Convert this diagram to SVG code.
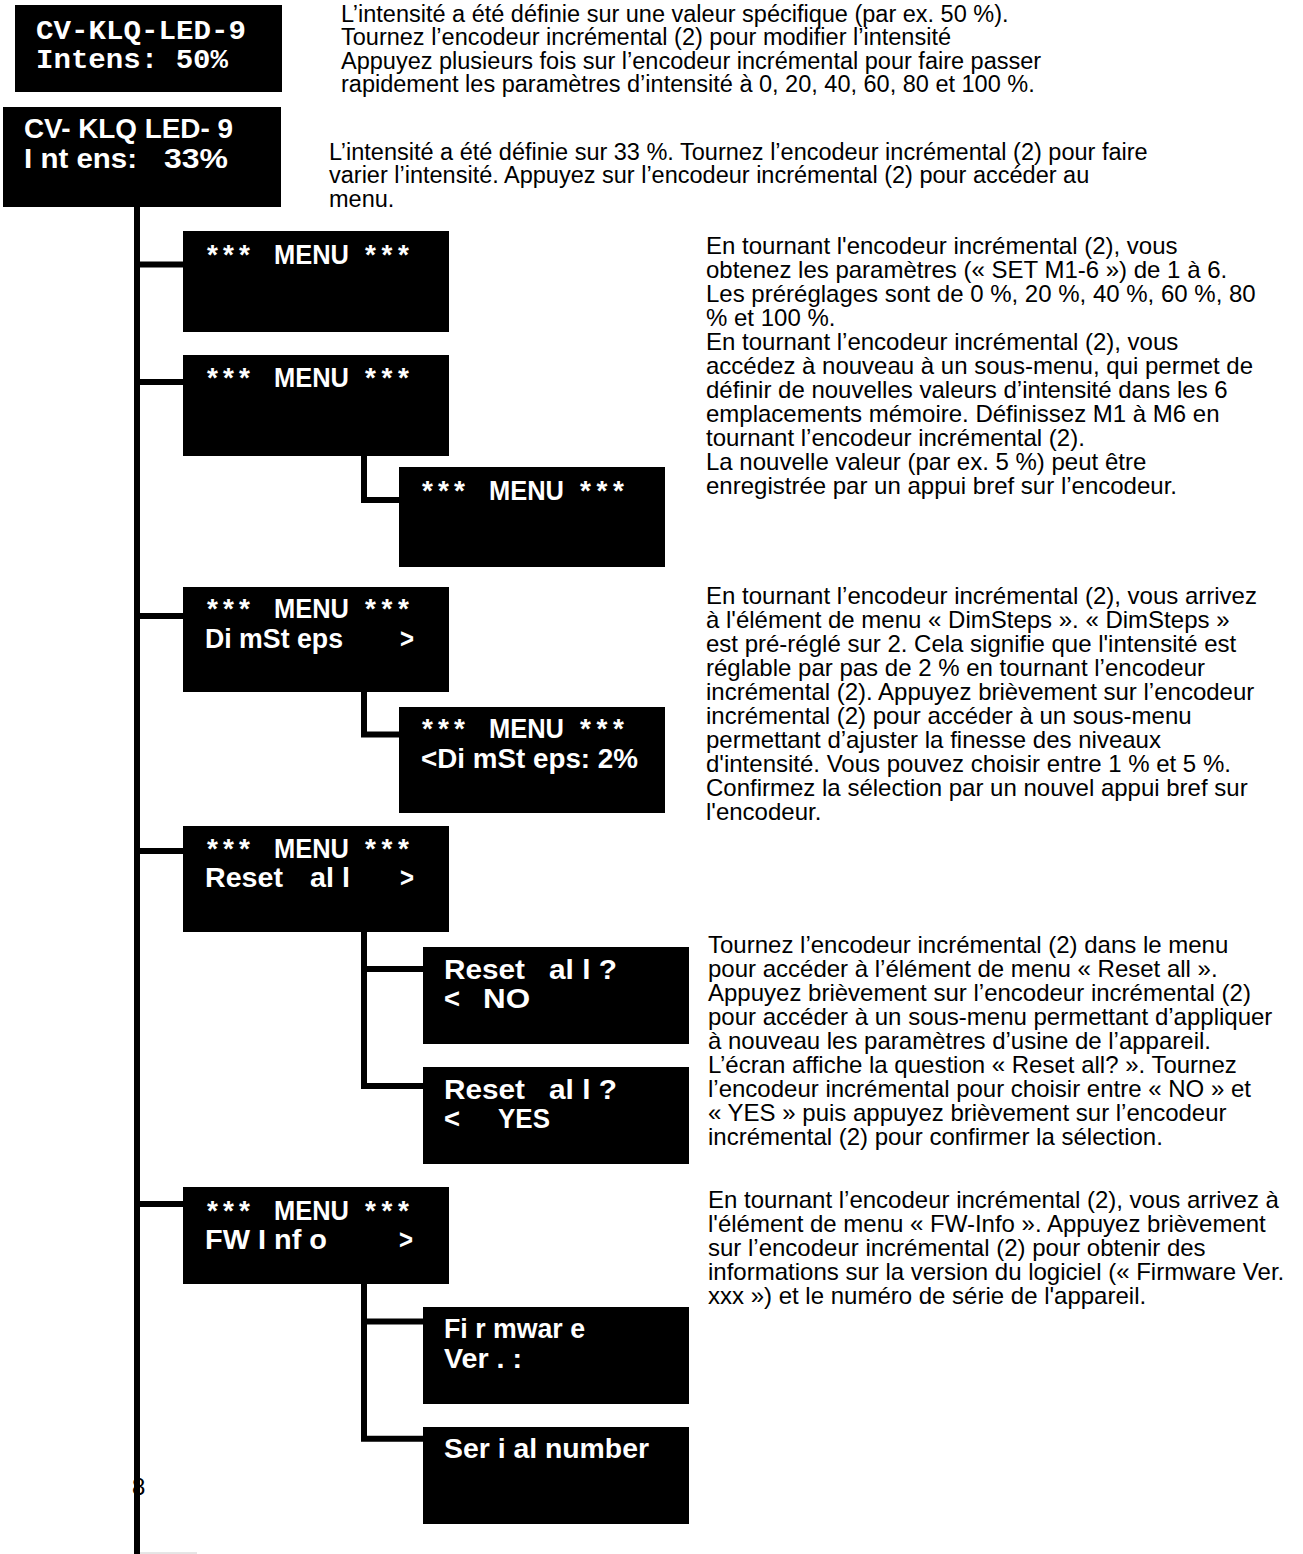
<svg xmlns="http://www.w3.org/2000/svg" width="1303" height="1554" viewBox="0 0 1303 1554">
<style>
.box{fill:#000}
.lcd{font-family:"Liberation Sans",Arial,sans-serif;font-weight:bold;font-size:28px;fill:#fff}
.mono{font-family:"Liberation Mono","Courier New",monospace;font-weight:bold;font-size:28px;fill:#fff}
.desc{font-family:"Liberation Sans",Arial,sans-serif;font-size:24px;fill:#000}
.desct{font-family:"Liberation Sans",Arial,sans-serif;font-size:23.5px;fill:#000}
.conn{stroke:#000;stroke-width:6;fill:none}
</style>
<rect width="1303" height="1554" fill="#fff"/>

<g id="page-number"><text x="132" y="1495" font-family="Liberation Sans, Arial, sans-serif" font-size="24" fill="#000">8</text></g>

<g id="connectors">
<line class="conn" x1="137" y1="207" x2="137" y2="1554"/>
<line class="conn" x1="137" y1="264.5" x2="183" y2="264.5"/>
<line class="conn" x1="137" y1="382" x2="183" y2="382"/>
<line class="conn" x1="137" y1="616" x2="183" y2="616"/>
<line class="conn" x1="137" y1="851" x2="183" y2="851"/>
<line class="conn" x1="137" y1="1204" x2="183" y2="1204"/>
<polyline class="conn" points="364,456 364,500 399,500"/>
<polyline class="conn" points="364,692 364,734.5 399,734.5"/>
<polyline class="conn" points="364,932 364,1086 423,1086"/>
<line class="conn" x1="364" y1="969" x2="423" y2="969"/>
<polyline class="conn" points="364,1284 364,1438.7 423,1438.7"/>
<line class="conn" x1="364" y1="1321.5" x2="423" y2="1321.5"/>
<line x1="140" y1="1553" x2="197" y2="1553" stroke="#ccc" stroke-width="1"/>
</g>

<g id="node-intens50">
<rect class="box" x="15" y="5" width="267" height="87"/>
<text class="mono" x="36" y="39" textLength="210" lengthAdjust="spacingAndGlyphs">CV-KLQ-LED-9</text>
<text class="mono" x="36" y="68" textLength="192" lengthAdjust="spacingAndGlyphs">Intens: 50%</text>
</g>

<g id="node-intens33">
<rect class="box" x="3" y="107" width="278" height="100"/>
<text class="lcd" x="24" y="138" font-size="25" textLength="209" lengthAdjust="spacingAndGlyphs">CV- KLQ LED- 9</text>
<text class="lcd" x="24" y="168" font-size="25" textLength="113" lengthAdjust="spacingAndGlyphs">I nt ens:</text>
<text class="lcd" x="164" y="168" font-size="25" textLength="64" lengthAdjust="spacingAndGlyphs">33%</text>
</g>

<g id="node-menu1">
<rect class="box" x="183" y="231" width="266" height="101"/>
<text class="lcd" y="264"><tspan x="207" textLength="43" lengthAdjust="spacing">***</tspan><tspan x="274" textLength="75" lengthAdjust="spacingAndGlyphs">MENU</tspan><tspan x="365" textLength="44" lengthAdjust="spacing">***</tspan></text>
</g>

<g id="node-menu2">
<rect class="box" x="183" y="355" width="266" height="101"/>
<text class="lcd" y="387"><tspan x="207" textLength="43" lengthAdjust="spacing">***</tspan><tspan x="274" textLength="75" lengthAdjust="spacingAndGlyphs">MENU</tspan><tspan x="365" textLength="44" lengthAdjust="spacing">***</tspan></text>
</g>

<g id="node-menu3">
<rect class="box" x="399" y="467" width="266" height="100"/>
<text class="lcd" y="499.5"><tspan x="422" textLength="43" lengthAdjust="spacing">***</tspan><tspan x="489" textLength="75" lengthAdjust="spacingAndGlyphs">MENU</tspan><tspan x="580" textLength="44" lengthAdjust="spacing">***</tspan></text>
</g>

<g id="node-dimsteps">
<rect class="box" x="183" y="587" width="266" height="105"/>
<text class="lcd" y="618"><tspan x="207" textLength="43" lengthAdjust="spacing">***</tspan><tspan x="274" textLength="75" lengthAdjust="spacingAndGlyphs">MENU</tspan><tspan x="365" textLength="44" lengthAdjust="spacing">***</tspan></text>
<text class="lcd" y="648"><tspan x="205" textLength="138" lengthAdjust="spacingAndGlyphs">Di mSt eps</tspan><tspan x="400" textLength="14" lengthAdjust="spacingAndGlyphs">&gt;</tspan></text>
</g>

<g id="node-dimsteps-sub">
<rect class="box" x="399" y="707" width="266" height="106"/>
<text class="lcd" y="738"><tspan x="422" textLength="43" lengthAdjust="spacing">***</tspan><tspan x="489" textLength="75" lengthAdjust="spacingAndGlyphs">MENU</tspan><tspan x="580" textLength="44" lengthAdjust="spacing">***</tspan></text>
<text class="lcd" x="421" y="768" textLength="217" lengthAdjust="spacingAndGlyphs">&lt;Di mSt eps: 2%</text>
</g>

<g id="node-resetall">
<rect class="box" x="183" y="826" width="266" height="106"/>
<text class="lcd" y="858"><tspan x="207" textLength="43" lengthAdjust="spacing">***</tspan><tspan x="274" textLength="75" lengthAdjust="spacingAndGlyphs">MENU</tspan><tspan x="365" textLength="44" lengthAdjust="spacing">***</tspan></text>
<text class="lcd" y="887"><tspan x="205" textLength="78" lengthAdjust="spacingAndGlyphs">Reset</tspan><tspan x="310" textLength="40" lengthAdjust="spacingAndGlyphs">al l</tspan><tspan x="400" textLength="14" lengthAdjust="spacingAndGlyphs">&gt;</tspan></text>
</g>

<g id="node-reset-no">
<rect class="box" x="423" y="947" width="266" height="97"/>
<text class="lcd" y="979"><tspan x="444" textLength="81" lengthAdjust="spacingAndGlyphs">Reset</tspan><tspan x="549" textLength="68" lengthAdjust="spacingAndGlyphs">al l ?</tspan></text>
<text class="lcd" y="1008"><tspan x="444" textLength="16" lengthAdjust="spacingAndGlyphs">&lt;</tspan><tspan x="483" textLength="47" lengthAdjust="spacingAndGlyphs">NO</tspan></text>
</g>

<g id="node-reset-yes">
<rect class="box" x="423" y="1067" width="266" height="97"/>
<text class="lcd" y="1099"><tspan x="444" textLength="81" lengthAdjust="spacingAndGlyphs">Reset</tspan><tspan x="549" textLength="68" lengthAdjust="spacingAndGlyphs">al l ?</tspan></text>
<text class="lcd" y="1128"><tspan x="444" textLength="16" lengthAdjust="spacingAndGlyphs">&lt;</tspan><tspan x="498" textLength="52" lengthAdjust="spacingAndGlyphs">YES</tspan></text>
</g>

<g id="node-fwinfo">
<rect class="box" x="183" y="1187" width="266" height="97"/>
<text class="lcd" y="1220"><tspan x="207" textLength="43" lengthAdjust="spacing">***</tspan><tspan x="274" textLength="75" lengthAdjust="spacingAndGlyphs">MENU</tspan><tspan x="365" textLength="44" lengthAdjust="spacing">***</tspan></text>
<text class="lcd" y="1249"><tspan x="205" textLength="122" lengthAdjust="spacingAndGlyphs">FW I nf o</tspan><tspan x="399" textLength="14" lengthAdjust="spacingAndGlyphs">&gt;</tspan></text>
</g>

<g id="node-firmware">
<rect class="box" x="423" y="1307" width="266" height="97"/>
<text class="lcd" x="444" y="1338" textLength="141" lengthAdjust="spacingAndGlyphs">Fi r mwar e</text>
<text class="lcd" x="444" y="1368" textLength="78" lengthAdjust="spacingAndGlyphs">Ver . :</text>
</g>

<g id="node-serial">
<rect class="box" x="423" y="1427" width="266" height="97"/>
<text class="lcd" x="444" y="1458" textLength="205" lengthAdjust="spacingAndGlyphs">Ser i al number</text>
</g>

<g id="desc-top">
<text class="desct" x="341" y="22">L’intensité a été définie sur une valeur spécifique (par ex. 50 %).</text>
<text class="desct" x="341" y="45">Tournez l’encodeur incrémental (2) pour modifier l’intensité</text>
<text class="desct" x="341" y="69">Appuyez plusieurs fois sur l’encodeur incrémental pour faire passer</text>
<text class="desct" x="341" y="92">rapidement les paramètres d’intensité à 0, 20, 40, 60, 80 et 100 %.</text>
</g>
<g id="desc-33">
<text class="desct" x="329" y="160">L’intensité a été définie sur 33 %. Tournez l’encodeur incrémental (2) pour faire</text>
<text class="desct" x="329" y="183">varier l’intensité. Appuyez sur l’encodeur incrémental (2) pour accéder au</text>
<text class="desct" x="329" y="207">menu.</text>
</g>
<g id="desc-menu">
<text class="desc" x="706" y="254">En tournant l'encodeur incrémental (2), vous</text>
<text class="desc" x="706" y="278">obtenez les paramètres (« SET M1-6 ») de 1 à 6.</text>
<text class="desc" x="706" y="302">Les préréglages sont de 0 %, 20 %, 40 %, 60 %, 80</text>
<text class="desc" x="706" y="326">% et 100 %.</text>
<text class="desc" x="706" y="350">En tournant l’encodeur incrémental (2), vous</text>
<text class="desc" x="706" y="374">accédez à nouveau à un sous-menu, qui permet de</text>
<text class="desc" x="706" y="398">définir de nouvelles valeurs d’intensité dans les 6</text>
<text class="desc" x="706" y="422">emplacements mémoire. Définissez M1 à M6 en</text>
<text class="desc" x="706" y="446">tournant l’encodeur incrémental (2).</text>
<text class="desc" x="706" y="470">La nouvelle valeur (par ex. 5 %) peut être</text>
<text class="desc" x="706" y="494">enregistrée par un appui bref sur l’encodeur.</text>
</g>
<g id="desc-dimsteps">
<text class="desc" x="706" y="604">En tournant l’encodeur incrémental (2), vous arrivez</text>
<text class="desc" x="706" y="628">à l'élément de menu « DimSteps ». « DimSteps »</text>
<text class="desc" x="706" y="652">est pré-réglé sur 2. Cela signifie que l'intensité est</text>
<text class="desc" x="706" y="676">réglable par pas de 2 % en tournant l’encodeur</text>
<text class="desc" x="706" y="700">incrémental (2). Appuyez brièvement sur l’encodeur</text>
<text class="desc" x="706" y="724">incrémental (2) pour accéder à un sous-menu</text>
<text class="desc" x="706" y="748">permettant d’ajuster la finesse des niveaux</text>
<text class="desc" x="706" y="772">d'intensité. Vous pouvez choisir entre 1 % et 5 %.</text>
<text class="desc" x="706" y="796">Confirmez la sélection par un nouvel appui bref sur</text>
<text class="desc" x="706" y="820">l'encodeur.</text>
</g>
<g id="desc-reset">
<text class="desc" x="708" y="953">Tournez l’encodeur incrémental (2) dans le menu</text>
<text class="desc" x="708" y="977">pour accéder à l’élément de menu « Reset all ».</text>
<text class="desc" x="708" y="1001">Appuyez brièvement sur l’encodeur incrémental (2)</text>
<text class="desc" x="708" y="1025">pour accéder à un sous-menu permettant d’appliquer</text>
<text class="desc" x="708" y="1049">à nouveau les paramètres d’usine de l’appareil.</text>
<text class="desc" x="708" y="1073">L’écran affiche la question « Reset all? ». Tournez</text>
<text class="desc" x="708" y="1097">l’encodeur incrémental pour choisir entre « NO » et</text>
<text class="desc" x="708" y="1121">« YES » puis appuyez brièvement sur l’encodeur</text>
<text class="desc" x="708" y="1145">incrémental (2) pour confirmer la sélection.</text>
</g>
<g id="desc-fwinfo">
<text class="desc" x="708" y="1208">En tournant l’encodeur incrémental (2), vous arrivez à</text>
<text class="desc" x="708" y="1232">l'élément de menu « FW-Info ». Appuyez brièvement</text>
<text class="desc" x="708" y="1256">sur l’encodeur incrémental (2) pour obtenir des</text>
<text class="desc" x="708" y="1280">informations sur la version du logiciel (« Firmware Ver.</text>
<text class="desc" x="708" y="1304">xxx ») et le numéro de série de l'appareil.</text>
</g>
</svg>
